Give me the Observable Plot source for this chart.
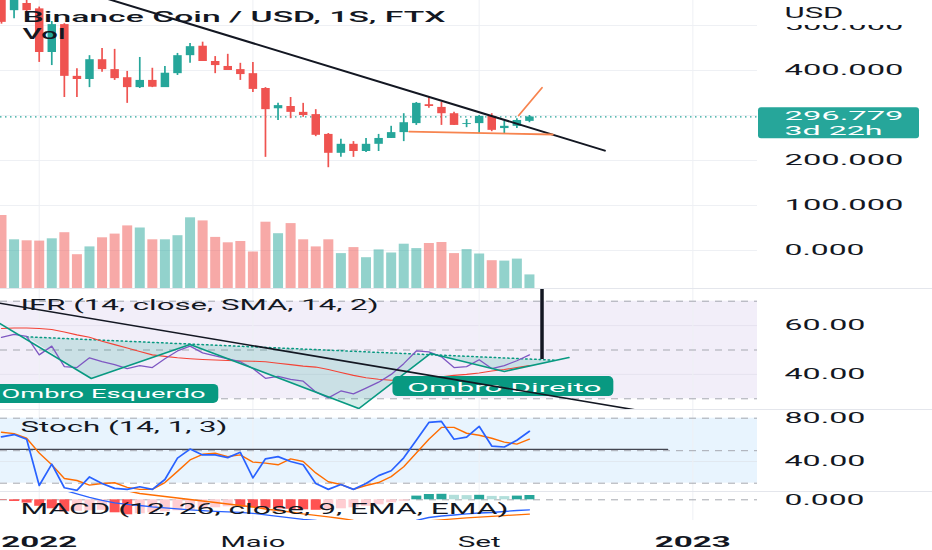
<!DOCTYPE html>
<html><head><meta charset="utf-8">
<script src="https://cdn.jsdelivr.net/npm/d3@7"></script>
<script src="https://cdn.jsdelivr.net/npm/@observablehq/plot@0.6"></script>
<style>
html,body{margin:0;padding:0;background:#fff;}
#chart{position:relative;width:932px;height:550px;overflow:hidden;background:#fff;}
#chart svg{position:absolute;left:0;}
.sep{position:absolute;left:0;width:932px;height:1px;background:#e4e6ec;}
</style></head><body><div id="chart"></div>
<script>
// ---------- data ----------
const weekStarts = ["2021-12-13","2021-12-20","2021-12-27","2022-01-03","2022-01-10","2022-01-17","2022-01-24","2022-01-31","2022-02-07","2022-02-14","2022-02-21","2022-02-28","2022-03-07","2022-03-14","2022-03-21","2022-03-28","2022-04-04","2022-04-11","2022-04-18","2022-04-25","2022-05-02","2022-05-09","2022-05-16","2022-05-23","2022-05-30","2022-06-06","2022-06-13","2022-06-20","2022-06-27","2022-07-04","2022-07-11","2022-07-18","2022-07-25","2022-08-01","2022-08-08","2022-08-15","2022-08-22","2022-08-29","2022-09-05","2022-09-12","2022-09-19","2022-09-26","2022-10-03"];
const openP  = [560,533,549,537,440,502,387,380,424,402,384,362,378,362,393,433,454,420,409,402,393,360,315,320,307,302,258,216,236,220,236,249,262,282,324,318,304,280,282,298,271,276,287];
const highP  = [575,590,560,541,509,504,404,433,449,447,398,429,405,409,438,460,463,431,436,416,418,362,327,340,327,313,260,247,242,249,258,276,304,329,340,329,307,291,300,304,287,293,300];
const lowP   = [503,515,531,418,411,340,340,362,396,378,327,360,362,362,389,416,420,393,400,378,351,207,289,293,296,253,184,207,207,218,220,249,242,278,316,278,278,273,260,264,260,271,284];
const closeP = [507,570,533,440,502,387,380,424,402,382,362,378,362.9,394,433,453,420,411,400,391,358,313,322,307,300,256,216,236,220,236,249,262,284,327,320,304,278,282,298,267,276,289,296.779];
const volumeK = [73,48.7,47.7,47.4,49.7,55.8,33.8,41.6,50.7,54.4,62.6,60.5,48.7,48.7,52.8,70.7,67.6,51.1,45.7,47,36.5,66.3,54.8,64.9,48.7,41.6,48.7,34.9,40.9,30.8,38.6,35.5,44.3,39.9,45,46,34.9,38.9,34.5,27.8,27.4,29.4,13.6];
const rsiValues = [55.2,56.4,55.6,48,51.6,43.2,42.8,46.8,45.2,44,42.4,43.6,42.8,46.4,49.6,51.6,48.8,47.6,46.4,45.2,42.4,38.4,39.2,38,37.2,32.8,30.4,33.2,32,34.4,36.8,40,44.4,49.6,49.2,47.2,42.8,43.2,46,42.4,43.6,45.6,48];
const rsiSma = [58.8,59,59,58.8,58.4,57.4,56.2,55.2,53.6,52.2,50.8,49.4,48,47.4,46.8,46.4,46.1,45.9,45.7,45.5,45.4,45.2,44.6,44,43.4,43,42,40.8,39.6,38.6,38,37.6,37.8,38.4,38.8,39,39.6,40,40.6,41.4,42,42.8,43.6];
const stochK = [62.7,64.9,60.6,17.9,37.6,15.8,13.4,25.8,19.7,15.2,14.3,16.7,14.3,23.4,43.1,51.5,46.1,46.1,43.6,48.5,24.9,42.5,44.5,40,37,19.7,14.3,18.8,14.3,19.7,27,31.5,43.4,59.7,76.1,77,60.6,62.5,72.5,54.3,53.4,59.7,67.9];
const stochD = [67,65.8,61.5,47.9,37,24.3,22.5,18.2,19.7,20.4,16.1,14.3,14.3,20.6,30.9,41.5,46.7,47.6,44.5,46.1,39.5,38.5,37,42.5,40,29.5,21.3,18.8,14.3,17.9,20.6,26.1,35.2,47.9,60.6,71.5,71.5,66.1,64.3,61.5,57.9,56.1,60.6];
const macdValues = [60,52,45,38,28,19,12,5,-1,-6,-9,-11.4,-14,-16,-18,-20,-21.5,-23,-24,-25,-27,-30,-33,-36,-39,-41.4,-44,-46,-48,-49,-49,-48,-47.5,-41.4,-35.4,-32.4,-30.4,-28,-26.4,-25.4,-23.4,-21.4,-20];
const signalValues = [75,72,68,64,59,53,46,39,32,25,18,12.6,9.6,6.6,3.6,0.6,-2.4,-5.4,-8.4,-11.4,-14.4,-18.4,-21.4,-24.4,-28,-31,-34,-37.4,-41,-44,-46,-47,-46.5,-44,-42,-40,-38,-36,-34.5,-33,-31.5,-30,-28.5];
const histValues = [-1,-3.4,-6.6,-13,-18,-24,-23,-22,-21,-26,-30,-28,-26,-24,-22,-20,-18,-16,-14,-15,-16,-17,-18,-19,-20,-21,-20,-18,-16,-13,-10,-6,-3,7.4,10.6,11,9,8.4,9,6.8,6.4,7.4,8.6];

const priceAxisTicks = [0,100,200,400,500];
const priceGridValues = [0,100,200,300,400,500];
const rsiTicks = [40,60];
const stochTicks = [40,80];
const macdTicks = [0];
const timeTickDates = ["2022-01-03","2022-05-02","2022-09-05","2023-01-02"];
const timeTickLabels = ["2022","Maio","Set","2023"];
const timeTickIsYear = [true,false,false,true];

const titleText = "Binance Coin / USD, 1S, FTX";
const volText = "Vol";
const currencyText = "USD";
const lastPrice = 296.779;
const countdownText = "3d 22h";
const rsiLabel = "IFR (14, close, SMA, 14, 2)";
const stochLabel = "Stoch (14, 1, 3)";
const macdLabel = "MACD (12, 26, close, 9, EMA, EMA)";

// drawings (anchor date, value)
const priceTrend = [["2022-01-24",580],["2022-11-14",222]];
const orangeBase = [["2022-07-28",264.4],["2022-10-16",257.8]];
const orangeUp = [["2022-09-27",300],["2022-10-10",361.6]];
const rsiTrend = [["2021-12-06",69.9],["2023-01-06",21.0]];
const hsPoints = [["2021-12-12",60.9],["2022-02-01",38.3],["2022-03-28",52.3],["2022-06-30",26.0],["2022-08-09",48.6],["2022-09-19",41.2],["2022-10-25",46.9]];
const neckline = [["2021-12-27",55.4],["2022-10-18",45.8]];
const hsFillPoints = [["2021-12-27",55.4],["2022-02-01",38.3],["2022-03-28",52.3],["2022-06-30",26.0],["2022-08-09",48.6],["2022-09-19",41.2],["2022-10-18",45.8]];
const markerLine = {date: "2022-10-10", from: 46.1, to: 75};
const stochLine = [["2021-12-06",51.3],["2022-12-19",51.3]];
const shoulderLabels = ["Ombro Esquerdo","Ombro Direito"];
const shoulderTextAt = [["2021-12-13",32.0],["2022-07-27",34.7]];
const shoulderBoxes = [["2021-11-20","2022-04-13",28.1,35.9],["2022-07-19","2022-11-19",30.9,39.1]];

// ---------- styling ----------
const UP = "#26a69a", DOWN = "#ef5350", INK = "#131722", ORANGE = "#f7844f", HS = "#089981";
const GRID = "#eef0f4", DASH = "#a5a8b0";
const X_DOMAIN = [new Date("2021-12-12T10:40:00Z"), new Date("2023-02-07T00:00:00Z")];
const W = 932, MR = 175;
const textWidths = {
  "Binance Coin / USD, 1S, FTX": 423, "Vol": 43, "USD": 59,
  "500.000": 119, "400.000": 119, "200.000": 119, "100.000": 119, "0.000": 80,
  "296.779": 119, "3d 22h": 98, "60.00": 81, "40.00": 81, "80.00": 81,
  "IFR (14, close, SMA, 14, 2)": 358, "Stoch (14, 1, 3)": 207,
  "MACD (12, 26, close, 9, EMA, EMA)": 488,
  "2022": 76, "2023": 76, "Maio": 65, "Set": 43,
  "Ombro Esquerdo": 204, "Ombro Direito": 194
};

const P = s => new Date(s);
const candles = weekStarts.map((d, i) => ({
  date: P(d), open: openP[i], high: highP[i], low: lowP[i], close: closeP[i],
  volume: volumeK[i], rsi: rsiValues[i], rsiMA: rsiSma[i], k: stochK[i], d: stochD[i],
  macd: macdValues[i], signal: signalValues[i], hist: histValues[i],
  prevHist: i > 0 ? histValues[i - 1] : 0
}));
const candleColor = d => d.close >= d.open ? UP : DOWN;
const histColor = d => d.hist >= 0 ? (d.hist >= d.prevHist ? "#26a69a" : "#b2dfdb") : (d.hist < d.prevHist ? "#ff5252" : "#ffcdd2");
const gridDates = timeTickDates.map(P);
const ax = d => P(d[0]), ay = d => d[1];

const common = h => ({
  width: W, height: h, marginLeft: 0, marginRight: MR, marginTop: 0, marginBottom: 0,
  x: {type: "utc", domain: X_DOMAIN, axis: null},
  style: {fontFamily: "Roboto, sans-serif", fontSize: "15px", color: INK, background: "transparent", overflow: "hidden"}
});
const yRight = (domain, ticks, fmt) => ({domain, axis: "right", ticks, tickFormat: d3.format(fmt), tickSize: 0, tickPadding: 27, label: null});
const paneLabel = (txt, base) => Plot.text([txt], {text: d => d, frameAnchor: "top-left", dx: 20, dy: base, lineAnchor: "bottom", textAnchor: "start", fill: INK});

// ---------- price pane ----------
const pricePlot = Plot.plot({
  ...common(288),
  y: yRight([-84.44, 555.6], priceAxisTicks, ".3f"),
  marks: [
    Plot.ruleY(priceGridValues, {stroke: GRID}),
    Plot.ruleX(gridDates, {stroke: GRID}),
    Plot.ruleY([lastPrice], {stroke: UP, strokeWidth: 1.3, strokeDasharray: "1.5,3.5"}),
    Plot.ruleX(candles, {x: "date", y1: "low", y2: "high", stroke: candleColor, strokeWidth: 1.7}),
    Plot.ruleX(candles, {x: "date", y1: "open", y2: "close", stroke: candleColor, strokeWidth: 8.5}),
    Plot.line(priceTrend, {x: ax, y: ay, stroke: INK, strokeWidth: 2}),
    Plot.line(orangeBase, {x: ax, y: ay, stroke: ORANGE, strokeWidth: 1.8}),
    Plot.line(orangeUp, {x: ax, y: ay, stroke: ORANGE, strokeWidth: 1.8}),
    Plot.text([titleText], {text: d => d, frameAnchor: "top-left", dx: 22, dy: 21, lineAnchor: "bottom", textAnchor: "start", fill: INK, fontWeight: 500}),
    Plot.text([volText], {text: d => d, frameAnchor: "top-left", dx: 22, dy: 38, lineAnchor: "bottom", textAnchor: "start", fill: INK, fontWeight: 500}),
    Plot.text([lastPrice.toFixed(3)], {text: d => d, y: () => lastPrice, frameAnchor: "right", dx: 27, dy: -1.3, textAnchor: "start", fill: "white", fontSize: 12.8}),
    Plot.text([countdownText], {text: d => d, y: () => lastPrice, frameAnchor: "right", dx: 27, dy: 13.6, textAnchor: "start", fill: "white", fontSize: 12.8}),
    Plot.text([currencyText], {text: d => d, frameAnchor: "top-right", dx: 27, dy: 17.5, lineAnchor: "bottom", textAnchor: "start", fill: INK})
  ]
});

// ---------- volume overlay ----------
const volPlot = Plot.plot({
  ...common(89),
  y: {domain: [0, 89], axis: null},
  marks: [
    Plot.ruleX(candles, {x: "date", y1: 0, y2: "volume", stroke: candleColor, strokeOpacity: 0.5, strokeWidth: 10})
  ]
});

// ---------- RSI pane ----------
const rsiPlot = Plot.plot({
  ...common(120),
  y: yRight([25.61, 74.8], rsiTicks, ".2f"),
  marks: [
    Plot.rect([{x1: X_DOMAIN[0], x2: X_DOMAIN[1], y1: 30, y2: 70}], {x1: "x1", x2: "x2", y1: "y1", y2: "y2", fill: "#7e57c2", fillOpacity: 0.1}),
    Plot.ruleY(rsiTicks, {stroke: "#e6e2ef"}),
    Plot.ruleX(gridDates, {stroke: GRID}),
    Plot.ruleY([30, 50, 70], {stroke: DASH, strokeDasharray: "7,6"}),
    Plot.line(hsFillPoints, {x: ax, y: ay, fill: HS, fillOpacity: 0.17, stroke: "none"}),
    Plot.line(neckline, {x: ax, y: ay, stroke: HS, strokeWidth: 1.5, strokeDasharray: "1.5,3"}),
    Plot.line(candles, {x: "date", y: "rsiMA", stroke: "#f44336", strokeWidth: 1.1}),
    Plot.line(candles, {x: "date", y: "rsi", stroke: "#7e57c2", strokeWidth: 1.3}),
    Plot.line(hsPoints, {x: ax, y: ay, stroke: HS, strokeWidth: 1.6}),
    Plot.rect(shoulderBoxes, {x1: d => P(d[0]), x2: d => P(d[1]), y1: d => d[2], y2: d => d[3], fill: HS, rx: 5}),
    Plot.text(shoulderLabels, {text: d => d, x: (d, i) => P(shoulderTextAt[i][0]), y: (d, i) => shoulderTextAt[i][1], textAnchor: "start", fill: "white", fontSize: 13.5}),
    Plot.line(rsiTrend, {x: ax, y: ay, stroke: INK, strokeWidth: 1.6}),
    Plot.ruleX([markerLine], {x: d => P(d.date), y1: d => d.from, y2: d => d.to, stroke: INK, strokeWidth: 3.5}),
    paneLabel(rsiLabel, 20)
  ]
});

// ---------- Stoch pane ----------
const stochPlot = Plot.plot({
  ...common(82),
  y: yRight([12.34, 88.03], stochTicks, ".2f"),
  marks: [
    Plot.rect([{x1: X_DOMAIN[0], x2: X_DOMAIN[1], y1: 20, y2: 80}], {x1: "x1", x2: "x2", y1: "y1", y2: "y2", fill: "#2196f3", fillOpacity: 0.1}),
    Plot.ruleY([40], {stroke: "#e1e8f0"}),
    Plot.ruleX(gridDates, {stroke: GRID}),
    Plot.ruleY([20, 50, 80], {stroke: DASH, strokeDasharray: "7,6"}),
    Plot.line(stochLine, {x: ax, y: ay, stroke: "#434651", strokeWidth: 1.3}),
    Plot.line(candles, {x: "date", y: "d", stroke: "#ff6d00", strokeWidth: 1.4}),
    Plot.line(candles, {x: "date", y: "k", stroke: "#2962ff", strokeWidth: 1.7}),
    paneLabel(stochLabel, 22)
  ]
});

// ---------- MACD pane ----------
const macdPlot = Plot.plot({
  ...common(29),
  y: yRight([-41.4, 16.6], macdTicks, ".3f"),
  marks: [
    Plot.ruleX(gridDates, {stroke: GRID}),
    Plot.ruleY([0], {stroke: DASH, strokeDasharray: "7,6"}),
    Plot.ruleX(candles, {x: "date", y1: 0, y2: "hist", stroke: histColor, strokeWidth: 10}),
    Plot.line(candles, {x: "date", y: "macd", stroke: "#2962ff", strokeWidth: 1.3}),
    Plot.line(candles, {x: "date", y: "signal", stroke: "#ff6d00", strokeWidth: 1.3}),
    paneLabel(macdLabel, 22.3)
  ]
});

// ---------- time axis ----------
const timeTicks = timeTickDates.map((d, i) => ({date: P(d), label: timeTickLabels[i], year: timeTickIsYear[i]}));
const timePlot = Plot.plot({
  ...common(30),
  marks: [
    Plot.text(timeTicks.filter(d => d.year), {x: "date", text: "label", frameAnchor: "top", dy: 16.3, fill: INK, fontWeight: 700}),
    Plot.text(timeTicks.filter(d => !d.year), {x: "date", text: "label", frameAnchor: "top", dy: 16.3, fill: INK})
  ]
});

// ---------- layout ----------
const chart = document.getElementById("chart");
const place = (svg, top) => { svg.style.top = top + "px"; chart.appendChild(svg); };
place(pricePlot, 0);
place(volPlot, 199);
place(rsiPlot, 289);
place(stochPlot, 409);
place(macdPlot, 491);
place(timePlot, 520);
[288, 409, 491].forEach(y => { const s = document.createElement("div"); s.className = "sep"; s.style.top = y + "px"; chart.appendChild(s); });

// price label box and currency header
const ps = d3.select(pricePlot);
const py = pricePlot.scale("y").apply(lastPrice);
ps.append("rect").attr("x", 758).attr("y", py - 9.2).attr("width", 161).attr("height", 31).attr("rx", 3).attr("fill", UP);
ps.append("rect").attr("x", 757.5).attr("y", 0).attr("width", 175).attr("height", 25).attr("fill", "white");
ps.selectAll("text").filter(function () {
  const s = this.textContent.trim();
  return s === lastPrice.toFixed(3) || s === countdownText || s === currencyText;
}).each(function () { d3.select(this.parentNode).raise(); });

// horizontally stretched glyphs, as in the screenshot
chart.querySelectorAll("text").forEach(t => {
  const w = textWidths[t.textContent.trim()];
  if (w) { t.setAttribute("textLength", w); t.setAttribute("lengthAdjust", "spacingAndGlyphs"); }
});
</script></body></html>
